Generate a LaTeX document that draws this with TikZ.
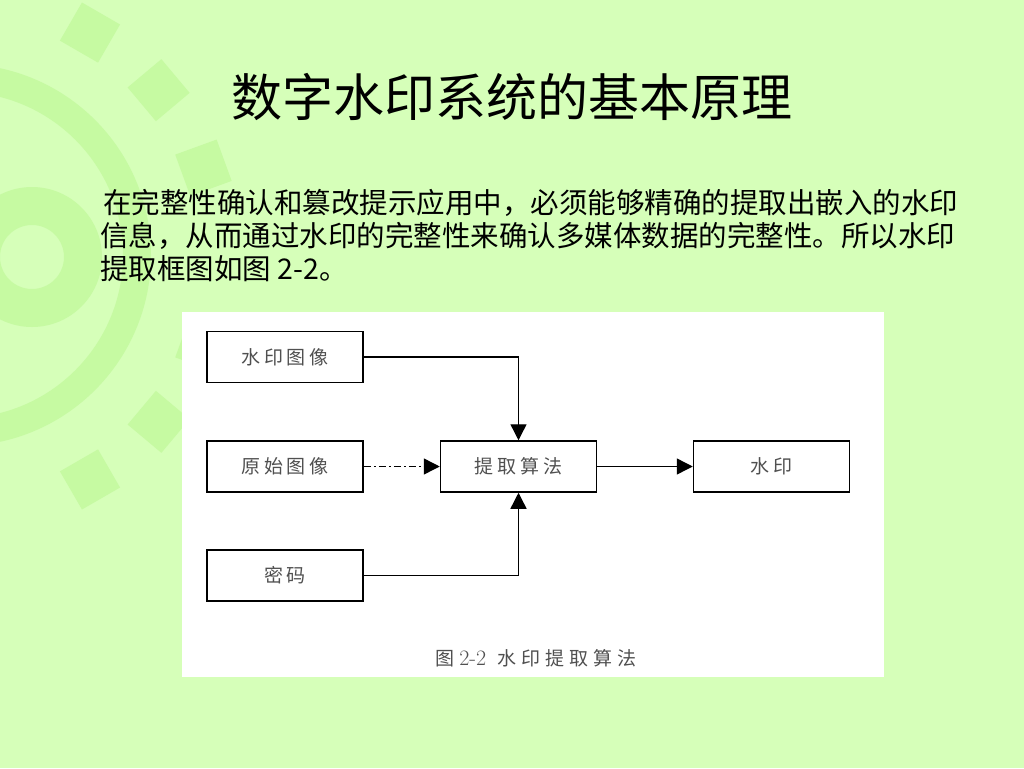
\documentclass[tikz,border=0pt]{standalone}
\usepackage{fontspec}
\newfontfamily\cjk{Noto Sans CJK SC}
\newfontfamily\cjksp[LetterSpace=20]{Noto Sans CJK SC}
\newfontfamily\cjkcap[LetterSpace=27]{Noto Sans CJK SC}
\usetikzlibrary{arrows.meta}
\definecolor{bg}{RGB}{214,255,185}
\definecolor{deco}{RGB}{198,250,162}
\definecolor{lbl}{RGB}{80,80,80}
\begin{document}
\begin{tikzpicture}[x=1pt,y=-1pt,
  box/.style={draw=black, line width=1.5pt, fill=white, minimum width=156pt, minimum height=51pt,
    inner sep=0pt, text=lbl, font=\cjksp\fontsize{19}{19}\selectfont},
  conn/.style={line width=1.4pt, -{Triangle[length=16pt,width=16pt]}},
  paraline/.style={anchor=west, inner sep=0pt, font=\cjk\fontsize{28.5}{28.5}\selectfont}]
\useasboundingbox (0,0) rectangle (1024,768);
\fill[bg] (0,0) rectangle (1024,768);
% background sun decoration
\begin{scope}
  \clip (0,0) rectangle (1024,768);
  \fill[deco, even odd rule] (-40,255) circle[radius=191] (-40,255) circle[radius=163];
  \fill[deco, even odd rule] (32,257) circle[radius=70] (32,257) circle[radius=32];
  \begin{scope}[shift={(-39,256)}]
    \foreach \a in {-60,-40,-20,20,40,60}
      \fill[deco] ({\a-5.33}:237) -- ({\a+5.33}:237) -- ({\a+4.49}:280.9) -- ({\a-4.49}:280.9) -- cycle;
  \end{scope}
\end{scope}
% title
\node (title) at (512,97) {\cjk\fontsize{51}{51}\selectfont 数字水印系统的基本原理};
% paragraph
\node[paraline] (l1) at (103,203) {在完整性确认和篡改提示应用中，必须能够精确的提取出嵌入的水印};
\node[paraline] (l2) at (100,236) {信息，从而通过水印的完整性来确认多媒体数据的完整性。所以水印};
\node[paraline] (l3) at (100,269) {提取框图如图 2-2。};
% figure
\fill[white] (182,312) rectangle (884,677);
\node[box] (wmimg) at (285,357) {水印图像};
\node[box] (orig) at (285,466.5) {原始图像};
\node[box] (alg) at (518.5,466.5) {提取算法};
\node[box] (wm) at (771.5,466.5) {水印};
\node[box] (key) at (285,575.5) {密码};
\draw[conn] (wmimg.east) -| (alg.north);
\draw[conn, dash pattern=on 7pt off 3pt on 2pt off 3pt] (orig.east) -- (alg.west);
\draw[conn] (key.east) -| (alg.south);
\draw[conn] (alg.east) -- (wm.west);
\node[text=lbl, inner sep=0pt] (cap) at (536,658) {\fontsize{19}{19}\selectfont{\cjk 图}\hspace{5pt}{\rmfamily\fontsize{22}{22}\selectfont 2-2}\hspace{11pt}{\cjkcap 水印提取算法}};
\end{tikzpicture}
\end{document}
